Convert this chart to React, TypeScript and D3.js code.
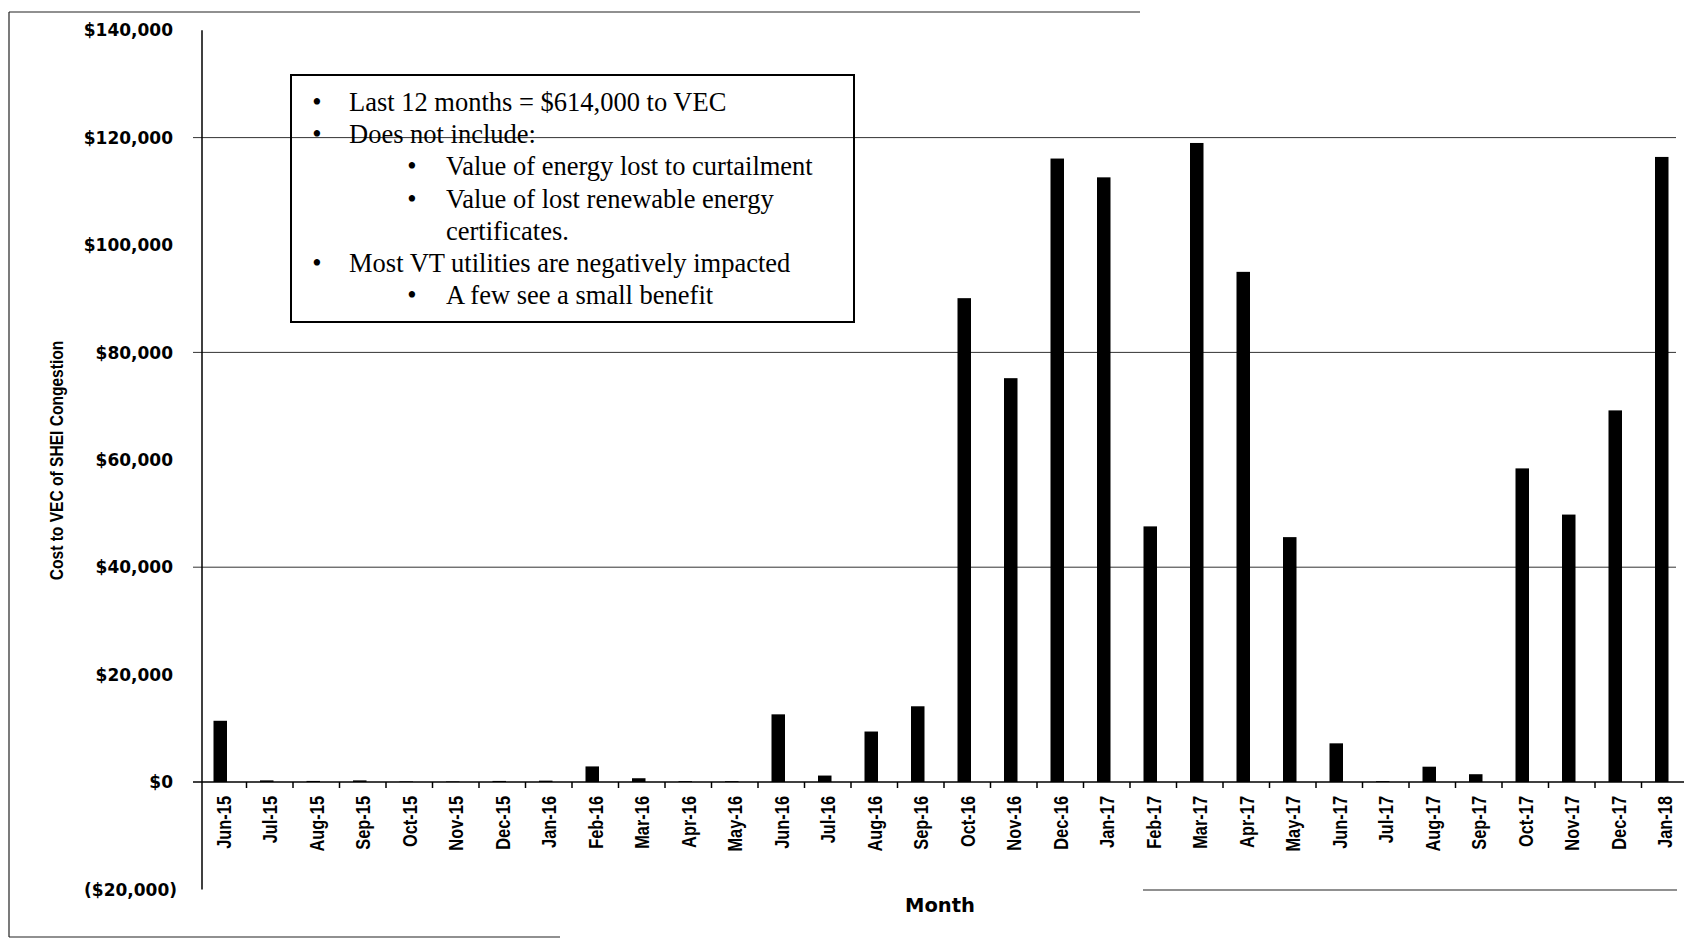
import * as d3 from "d3";

// monthly cost to VEC of SHEI congestion
const months = [
  "Jun-15", "Jul-15", "Aug-15", "Sep-15", "Oct-15", "Nov-15", "Dec-15",
  "Jan-16", "Feb-16", "Mar-16", "Apr-16", "May-16", "Jun-16", "Jul-16",
  "Aug-16", "Sep-16", "Oct-16", "Nov-16", "Dec-16", "Jan-17", "Feb-17",
  "Mar-17", "Apr-17", "May-17", "Jun-17", "Jul-17", "Aug-17", "Sep-17",
  "Oct-17", "Nov-17", "Dec-17", "Jan-18",
];
const costs = [
  11400, 300, 200, 300, 100, 100, 200,
  250, 2900, 700, 150, 150, 12600, 1200,
  9400, 14100, 90100, 75200, 116100, 112600, 47600,
  119000, 95000, 45600, 7200, 150, 2850, 1450,
  58400, 49800, 69200, 116400,
];
const yTicks = [-20000, 0, 20000, 40000, 60000, 80000, 100000, 120000, 140000];
const gridValues = [40000, 80000, 120000];

const noteLines = [
  { level: 1, bullet: true, text: "Last 12 months = $614,000 to VEC" },
  { level: 1, bullet: true, text: "Does not include:" },
  { level: 2, bullet: true, text: "Value of energy lost to curtailment" },
  { level: 2, bullet: true, text: "Value of lost renewable energy" },
  { level: 2, bullet: false, text: "certificates." },
  { level: 1, bullet: true, text: "Most VT utilities are negatively impacted" },
  { level: 2, bullet: true, text: "A few see a small benefit" },
];

const yTitle = "Cost to VEC of SHEI Congestion";
const xTitle = "Month";

const W = 1684;
const H = 939;

export default function App() {
  const x = d3
    .scaleBand()
    .domain(months)
    .range([200, 200 + 46.5 * months.length]);
  const y = d3.scaleLinear().domain([-20000, 140000]).range([889.4, 30.2]);

  const bw = x.bandwidth();
  const barW = 13.5;
  const y0 = y(0);
  const axisX = 202;

  const fmt = (v: number) =>
    v < 0 ? `($${d3.format(",")(-v)})` : `$${d3.format(",")(v)}`;

  const tickFont = "'DejaVu Sans', Verdana, sans-serif";
  const narrowFont = "'Liberation Sans', Arial, sans-serif";
  const serifFont = "'Liberation Serif', 'Times New Roman', serif";

  return (
    <>
      <style>{"body{margin:0}"}</style>
      <svg width={W} height={H} style={{ display: "block", background: "#fff" }}>
        {/* scan frame pieces */}
        <g stroke="#222" strokeWidth={1.2} fill="none">
          <line x1={9} y1={12} x2={1140} y2={12} />
          <line x1={9} y1={12} x2={9} y2={937} />
          <line x1={9} y1={937} x2={560} y2={937} />
          <line x1={1143} y1={890} x2={1677} y2={890} />
        </g>

        {/* gridlines */}
        <g stroke="#333" strokeWidth={1}>
          {gridValues.map((v) => (
            <line key={v} x1={193} x2={1676} y1={y(v)} y2={y(v)} />
          ))}
        </g>

        {/* bars */}
        <g fill="#000">
          {months.map((m, i) => (
            <rect
              key={m}
              x={(x(m) ?? 0) + bw / 2 - 3 - barW / 2}
              y={y(Math.max(costs[i], 0))}
              width={barW}
              height={Math.abs(y(costs[i]) - y0)}
            />
          ))}
        </g>

        {/* axes */}
        <g stroke="#000" strokeWidth={1.5}>
          <line x1={axisX} x2={axisX} y1={y(140000)} y2={y(-20000)} />
          <line x1={193} x2={W} y1={y0} y2={y0} />
          {months.map((m) => (
            <line
              key={m}
              x1={(x(m) ?? 0) + bw}
              x2={(x(m) ?? 0) + bw}
              y1={y0}
              y2={y0 + 6}
            />
          ))}
        </g>

        {/* y tick labels */}
        <g fontFamily={tickFont} fontWeight="bold" fontSize={17} fill="#000">
          {yTicks.map((v) => (
            <text
              key={v}
              x={v < 0 ? 177 : 173}
              y={y(v)}
              dy="0.36em"
              textAnchor="end"
            >
              {fmt(v)}
            </text>
          ))}
        </g>

        {/* x tick labels */}
        <g fontFamily={narrowFont} fontWeight="bold" fontSize={20} fill="#000">
          {months.map((m) => (
            <text
              key={m}
              transform={`translate(${(x(m) ?? 0) + bw / 2 + 7.5},${y0 + 14}) rotate(-90) scale(0.82,1)`}
              textAnchor="end"
            >
              {m}
            </text>
          ))}
        </g>

        {/* axis titles */}
        <text
          transform="translate(63,460.5) rotate(-90) scale(0.82,1)"
          textAnchor="middle"
          fontFamily={narrowFont}
          fontWeight="bold"
          fontSize={19}
        >
          {yTitle}
        </text>
        <text
          x={940}
          y={912}
          textAnchor="middle"
          fontFamily={tickFont}
          fontWeight="bold"
          fontSize={19.5}
        >
          {xTitle}
        </text>

        {/* note box */}
        <rect x={291} y={75} width={563} height={247} fill="none" stroke="#000" strokeWidth={2} />
        <g fontFamily={serifFont} fontSize={26.5} fill="#000">
          {noteLines.map((l, i) => {
            const by = 111 + i * 32.2;
            const bx = l.level === 1 ? 317 : 412;
            const tx = l.level === 1 ? 349 : 446;
            return (
              <g key={i}>
                {l.bullet && (
                  <text x={bx} y={by} textAnchor="middle">
                    •
                  </text>
                )}
                <text x={tx} y={by}>
                  {l.text}
                </text>
              </g>
            );
          })}
        </g>
      </svg>
    </>
  );
}
